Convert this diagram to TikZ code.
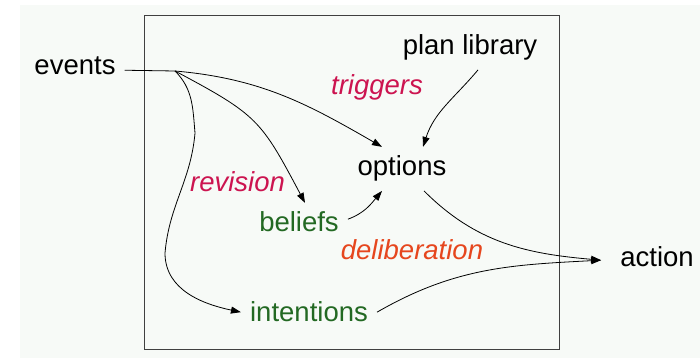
\documentclass[tikz,border=0pt]{standalone}
\usepackage{fontspec}
\setmainfont{Liberation Sans}
\usepackage{xcolor}
\usetikzlibrary{arrows.meta}

\definecolor{bgtint}{RGB}{247,250,247}
\definecolor{trigred}{RGB}{204,20,80}
\definecolor{delibred}{RGB}{230,70,30}
\definecolor{bdigreen}{RGB}{35,105,35}

\begin{document}
\begin{tikzpicture}[x=1pt, y=1pt,
  txt/.style={font=\fontsize{27.5}{33}\selectfont, inner sep=9pt, anchor=base},
  lbl/.style={txt, font=\fontsize{27.5}{33}\selectfont\itshape},
  flow/.style={-{Triangle[length=10pt,width=7pt]}, line width=0.8pt}]
\useasboundingbox (0,0) rectangle (700,358);
\fill[bgtint] (20,0) rectangle (700,353);
\draw[line width=0.9pt, black!75] (144,9) rectangle (559,343);

% the agent's parts
\node[txt] (events) at (75,283) {events};
\node[txt] (planlib) at (470,303) {plan library};
\node[txt] (options) at (402,182) {options};
\node[txt, text=bdigreen] (beliefs) at (299,126) {beliefs};
\node[txt, text=bdigreen] (intentions) at (309,36) {intentions};
\node[txt] (action) at (657,91) {action};
\node[lbl, text=trigred] (triggers) at (377,263) {triggers};
\node[lbl, text=trigred] (revision) at (237.5,166) {revision};
\node[lbl, text=delibred] (deliberation) at (412,98) {deliberation};
\coordinate (br) at (175,287);

\draw[line width=0.8pt] ([yshift=-4pt]events.east) -- (br);
\draw[flow] (br) to[out=-5,in=150] ([xshift=-20pt]options.north);
\draw[flow] (br) to[out=-28,in=118,looseness=1.3] ([xshift=6pt]beliefs.north);
\draw[flow] (br) to[out=-45,in=95] (195,225) to[out=-95,in=85] (165,105)
  to[out=-90,in=168] (intentions.west);
\draw[flow] ([xshift=8pt]planlib.south) to[out=-130,in=72] ([xshift=21pt]options.north);
\draw[flow] ([yshift=3pt]beliefs.east) to[out=20,in=-130] ([xshift=-20pt]options.south);
\draw[flow] ([xshift=22pt]options.south) to[out=-45,in=175] ([xshift=-10pt,yshift=-3pt]action.west);
\draw[flow] (intentions.east) to[out=30,in=183] ([xshift=-10pt,yshift=-3pt]action.west);
\end{tikzpicture}
\end{document}
